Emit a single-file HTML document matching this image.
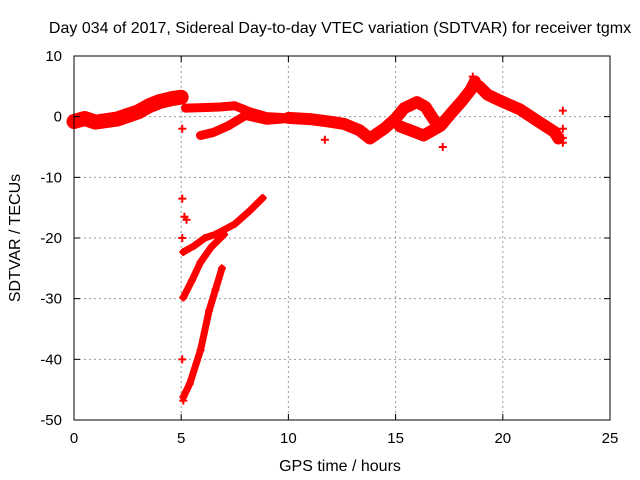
<!DOCTYPE html>
<html><head><meta charset="utf-8"><style>
body{margin:0;background:#fff}
svg{display:block;font-family:"Liberation Sans",sans-serif}
</style></head><body>
<svg id="chart" width="640" height="480" xmlns="http://www.w3.org/2000/svg">
<text x="340" y="33" font-size="16" text-anchor="middle">Day 034 of 2017, Sidereal Day-to-day VTEC variation (SDTVAR) for receiver tgmx</text>
<text x="340" y="471" font-size="16" text-anchor="middle">GPS time / hours</text>
<text transform="translate(20,238) rotate(-90)" font-size="16" text-anchor="middle">SDTVAR / TECUs</text>
<g id="grid"></g><g id="marks"></g>
<rect x="74" y="56" width="536" height="364" fill="none" stroke="#000" stroke-width="1"/>
<g id="ticks"></g>
</svg>
<script>
const xTicks=[0,5,10,15,20,25];
const yTicks=[10,0,-10,-20,-30,-40,-50];
// main band tracks: [hour, value]
const mainA=[[0,-0.8],[0.5,-0.3],[1,-0.9],[2,-0.4],[3,0.8],[3.5,1.8],[4,2.5],[4.6,3],[5,3.2]];
const mainUpper=[[5.2,1.4],[6,1.5],[6.8,1.6],[7.5,1.8],[8.2,0.8],[9,0],[10,-0.2]];
const mainLower=[[5.9,-3.1],[6.5,-2.6],[7.2,-1.5],[8,0.2],[9,-0.6],[10,-0.3]];
const mainB=[[10,-0.2],[11,-0.4],[11.9,-0.8],[12.6,-1.2],[13.3,-2.2],[13.8,-3.6],[14.5,-1.9],[15,-0.3],[15.4,1.4],[16,2.4],[16.4,1.6],[16.8,-0.6]];
const mainLoop=[[15.2,-1.6],[15.8,-2.4],[16.3,-3.1],[17.1,-1.5],[17.6,0.6],[18.1,2.6],[18.5,4.4],[18.7,5.8]];
const mainC=[[18.9,5],[19.3,3.6],[19.9,2.6],[20.8,1.2],[21.7,-0.9],[22.4,-2.5],[22.6,-3.6]];
const trackB=[[5.1,-22.3],[5.6,-21.3],[6.1,-20],[6.6,-19.4],[7.5,-17.7],[8.2,-15.5],[8.8,-13.4]];
const trackC=[[5.1,-29.8],[5.5,-27],[5.9,-24],[6.4,-21.5],[7,-19.4]];
const trackD=[[5.1,-46.2],[5.4,-44],[5.9,-38.5],[6.3,-32],[6.6,-28.5],[6.9,-25]];
const strays=[[5.05,-2],[5.05,-13.5],[5.15,-16.5],[5.25,-17],[5.05,-20],[5.05,-40],[5.1,-46.8],[11.7,-3.8],[18.6,6.6],[19.2,4.5],[22.8,1],[22.8,-2],[22.8,-3.5],[22.8,-4.3],[17.2,-5]];
const X=h=>74+h*536/25, Y=v=>56+(10-v)*364/60;
const NS="http://www.w3.org/2000/svg";
const grid=document.getElementById('grid'),ticks=document.getElementById('ticks'),marks=document.getElementById('marks');
function mk(t,a,p){const e=document.createElementNS(NS,t);for(const k in a)e.setAttribute(k,a[k]);p.appendChild(e);return e;}
xTicks.forEach(t=>{const x=X(t);
 if(t>0&&t<25){const g=mk('line',{x1:x,x2:x,y1:56,y2:420,stroke:'#999','stroke-dasharray':'2,3'},grid);
 
 }
 mk('line',{x1:x,x2:x,y1:420,y2:414,stroke:'#000'},ticks);mk('line',{x1:x,x2:x,y1:56,y2:62,stroke:'#000'},ticks);
 const l=mk('text',{x:x,y:443,'font-size':15,'text-anchor':'middle'},ticks);l.textContent=t;
 
 });
yTicks.forEach(t=>{const y=Y(t);
 if(t<10&&t>-50){const g=mk('line',{x1:74,x2:610,y1:y,y2:y,stroke:'#999','stroke-dasharray':'2,3'},grid);
 
 }
 mk('line',{x1:74,x2:80,y1:y,y2:y,stroke:'#000'},ticks);mk('line',{x1:604,x2:610,y1:y,y2:y,stroke:'#000'},ticks);
 const l=mk('text',{x:62,y:y+5,'font-size':15,'text-anchor':'end'},ticks);l.textContent=t;
 
 });
function band(pts,w,name){
 const p=mk('polyline',{points:pts.map(d=>X(d[0])+','+Y(d[1])).join(' '),fill:'none',stroke:'#f00','stroke-width':w,'stroke-linejoin':'round','stroke-linecap':'round'},marks);
 
 
 pts.forEach(d=>cross(d));}
function cross(d){const x=X(d[0]),y=Y(d[1]);
 const c=mk('path',{d:`M${x-4},${y}h8M${x},${y-4}v8`,stroke:'#f00','stroke-width':2},marks);
 
 }
band(mainA,15,'series-main-early');band(mainUpper,9,'series-main-upper');band(mainLower,9,'series-main-lower');
band(mainB,12,'series-main-mid');band(mainLoop,12,'series-main-loop');band(mainC,12,'series-main-late');
band(trackB,7,'series-track-b');band(trackC,7,'series-track-c');band(trackD,7,'series-track-d');
strays.forEach(cross);
</script>
</body></html>
